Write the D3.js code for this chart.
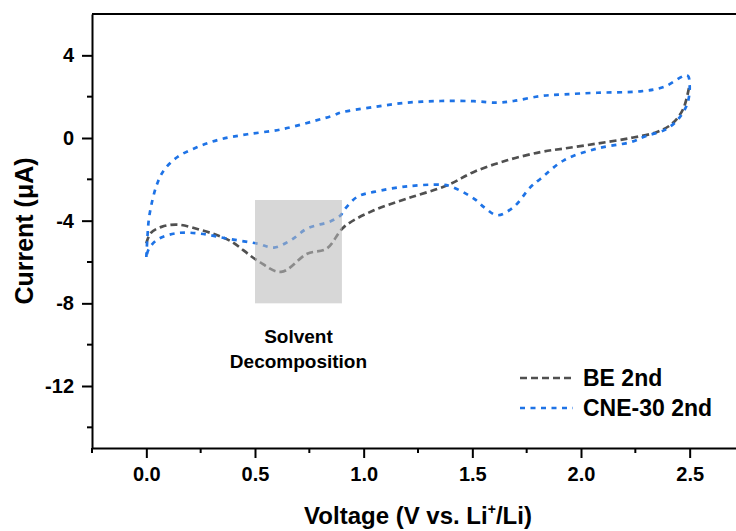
<!DOCTYPE html>
<meta charset="utf-8">
<style>

body {
  margin: 0;
  background: #fff;
}

svg text {
  font-family: "Liberation Sans", Arial, sans-serif;
  font-weight: bold;
  fill: #000;
}

.axis path,
.axis line {
  stroke: #000;
  stroke-width: 2px;
}

</style>
<svg width="736" height="531"></svg>
<script src="https://d3js.org/d3.v7.min.js"></script>
<script>

// CV sweeps, 2nd cycle (V vs. Li+/Li, current in uA)
var beVoltage = [0.00, 0.02, 0.07, 0.143, 0.25, 0.327, 0.39, 0.51, 0.62, 0.74, 0.83, 0.91,
                 1.047, 1.20, 1.384, 1.507, 1.66, 1.814, 1.921, 2.074, 2.228, 2.35, 2.42, 2.47, 2.50];
var beCurrent = [-5.1, -4.6, -4.3, -4.19, -4.45, -4.71, -5.0, -5.92, -6.48, -5.6, -5.35, -4.3,
                 -3.5, -2.93, -2.29, -1.64, -1.08, -0.68, -0.51, -0.27, 0.0, 0.29, 0.7, 1.4, 2.6];

var cneVoltage = [0.00, 0.005, 0.012, 0.028, 0.05, 0.081, 0.143, 0.235, 0.342, 0.465, 0.618, 0.771,
                  0.863, 0.894, 1.047, 1.20, 1.354, 1.507, 1.615, 1.69, 1.814, 1.921, 2.074, 2.274,
                  2.381, 2.489, 2.50, 2.489, 2.443, 2.381, 2.30, 2.228, 2.074, 1.921, 1.814, 1.768,
                  1.69, 1.615, 1.56, 1.507, 1.40, 1.354, 1.20, 1.047, 0.97, 0.909, 0.894, 0.848,
                  0.74, 0.664, 0.587, 0.51, 0.373, 0.25, 0.143, 0.05, 0.01, 0.00];
var cneCurrent = [-5.76, -4.8, -3.9, -3.01, -2.21, -1.56, -0.92, -0.44, -0.06, 0.18, 0.41, 0.82,
                  1.1, 1.23, 1.5, 1.71, 1.79, 1.78, 1.71, 1.79, 2.03, 2.11, 2.19, 2.26,
                  2.47, 3.03, 2.55, 1.66, 0.86, 0.37, 0.1, -0.2, -0.51, -1.08, -1.97, -2.37,
                  -3.34, -3.74, -3.4, -2.93, -2.34, -2.26, -2.34, -2.61, -2.85, -3.5, -3.74, -4.03,
                  -4.38, -4.95, -5.3, -5.11, -4.87, -4.63, -4.6, -4.92, -5.4, -5.76];

var seriesNames = ["BE 2nd", "CNE-30 2nd"];
var xTicks = [0, 0.5, 1.0, 1.5, 2.0, 2.5];
var yTicks = [4, 0, -4, -8, -12];

// shaded region where the electrolyte decomposes
var boxVoltage = [0.5, 0.9];
var boxCurrent = [-8, -3];

var svg = d3.select("svg"),
    margin = {top: 14, right: -8, bottom: 83, left: 92},
    width = +svg.attr("width") - margin.left - margin.right,
    height = +svg.attr("height") - margin.top - margin.bottom;

var x = d3.scaleLinear().domain([-0.25, 2.75]).range([0, width]);
var y = d3.scaleLinear().domain([-15, 6]).range([height, 0]);

var g = svg.append("g")
    .attr("transform", "translate(" + margin.left + "," + margin.top + ")");

var styles = [
  {color: "#505050", dash: "7,4"},
  {color: "#1e73e6", dash: "5,5.5"}
];

var series = [
  d3.zip(beVoltage, beCurrent),
  d3.zip(cneVoltage, cneCurrent)
];

var line = d3.line()
    .x(function(d) { return x(d[0]); })
    .y(function(d) { return y(d[1]); })
    .curve(d3.curveCatmullRom.alpha(0.5));

g.selectAll(".curve")
  .data(series)
  .enter().append("path")
    .attr("class", "curve")
    .attr("fill", "none")
    .attr("stroke", function(d, i) { return styles[i].color; })
    .attr("stroke-width", 2.7)
    .attr("stroke-dasharray", function(d, i) { return styles[i].dash; })
    .attr("d", line);

// translucent box sits over the curves
g.append("rect")
    .attr("x", x(boxVoltage[0]))
    .attr("y", y(boxCurrent[1]))
    .attr("width", x(boxVoltage[1]) - x(boxVoltage[0]))
    .attr("height", y(boxCurrent[0]) - y(boxCurrent[1]))
    .attr("fill", "rgb(185,185,185)")
    .attr("fill-opacity", 0.57);

g.append("text")
    .attr("x", x(0.7))
    .attr("y", 329)
    .attr("text-anchor", "middle")
    .style("font-size", "19px")
  .selectAll("tspan")
  .data(["Solvent", "Decomposition"])
  .enter().append("tspan")
    .attr("x", x(0.7))
    .attr("dy", function(d, i) { return i ? 25 : 0; })
    .text(function(d) { return d; });

// axes
var xAxis = g.append("g")
    .attr("class", "axis")
    .attr("transform", "translate(0," + height + ")")
    .call(d3.axisBottom(x).tickValues(xTicks).tickFormat(d3.format(".1f")).tickSize(10).tickPadding(9).tickSizeOuter(0));

xAxis.selectAll(".minor")
  .data(d3.range(-0.25, 2.76, 0.5))
  .enter().append("line")
    .attr("class", "minor")
    .attr("x1", function(d) { return x(d); })
    .attr("x2", function(d) { return x(d); })
    .attr("y2", 5);

var yAxis = g.append("g")
    .attr("class", "axis")
    .call(d3.axisLeft(y).tickValues(yTicks).tickFormat(function(d) { return String(d); }).tickSize(10).tickPadding(8).tickSizeOuter(0));

yAxis.selectAll(".minor")
  .data([2, -2, -6, -10, -14])
  .enter().append("line")
    .attr("class", "minor")
    .attr("y1", function(d) { return y(d); })
    .attr("y2", function(d) { return y(d); })
    .attr("x2", -5);

g.selectAll(".axis text")
    .style("font-size", "20px")
    .style("font-family", "'Liberation Sans', Arial, sans-serif")
    .style("font-weight", "bold");

// top and right border of the frame
g.append("line")
    .attr("x1", 0)
    .attr("x2", width)
    .attr("stroke", "#000")
    .attr("stroke-width", 2);

g.append("line")
    .attr("x1", width)
    .attr("x2", width)
    .attr("y2", height)
    .attr("stroke", "#000")
    .attr("stroke-width", 2);

// axis titles
var xTitle = svg.append("text")
    .attr("x", margin.left + x(1.25))
    .attr("y", 524)
    .attr("text-anchor", "middle")
    .style("font-size", "24px");
xTitle.append("tspan").text("Voltage (V vs. Li");
xTitle.append("tspan").attr("dy", -10).style("font-size", "14px").text("+");
xTitle.append("tspan").attr("dy", 10).text("/Li)");

svg.append("text")
    .attr("transform", "translate(33," + (margin.top + height / 2) + ") rotate(-90)")
    .attr("text-anchor", "middle")
    .style("font-size", "25px")
    .text("Current (\u03bcA)");

// legend
var legend = svg.append("g")
    .attr("transform", "translate(520,378)");

var item = legend.selectAll("g")
  .data(seriesNames)
  .enter().append("g")
    .attr("transform", function(d, i) { return "translate(0," + i * 30 + ")"; });

item.append("line")
    .attr("x1", 0)
    .attr("x2", 53)
    .attr("stroke", function(d, i) { return styles[i].color; })
    .attr("stroke-width", 2.7)
    .attr("stroke-dasharray", function(d, i) { return styles[i].dash; });

item.append("text")
    .attr("x", 63)
    .attr("y", 8)
    .style("font-size", "23px")
    .text(function(d) { return d; });

</script>
